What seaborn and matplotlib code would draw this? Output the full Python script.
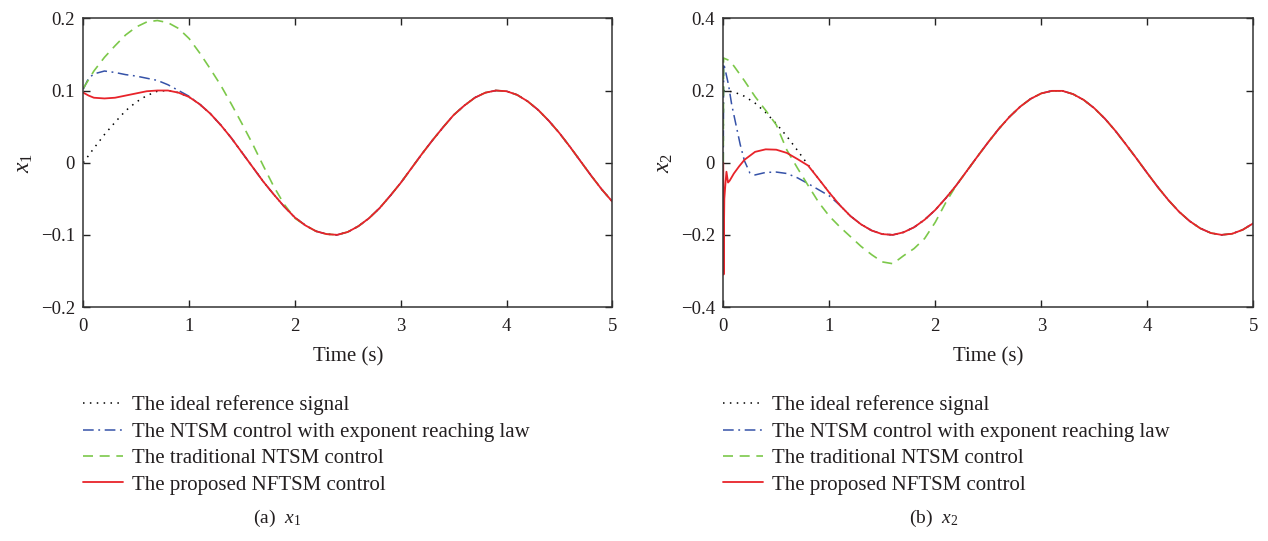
import numpy as np
import pandas as pd
import matplotlib
matplotlib.use("Agg")
import matplotlib.pyplot as plt
import seaborn as sns

# ---------------------------------------------------------------- data
# common time grid (s) for the reference trajectories
time_ref = np.linspace(0.0, 5.0, 51)

# reference trajectory for x1
x1_ref = [0.000, 0.020, 0.039, 0.056, 0.072, 0.084, 0.093, 0.099, 0.100, 0.097,
          0.091, 0.081, 0.068, 0.052, 0.034, 0.014, -0.006, -0.026, -0.044, -0.061,
          -0.076, -0.087, -0.095, -0.099, -0.100, -0.096, -0.088, -0.077, -0.063, -0.046,
          -0.028, -0.008, 0.012, 0.031, 0.049, 0.066, 0.079, 0.090, 0.097, 0.100,
          0.099, 0.094, 0.085, 0.073, 0.058, 0.041, 0.022, 0.002, -0.018, -0.037,
          -0.054]

# reference trajectory for x2
x2_ref = [0.200, 0.196, 0.184, 0.165, 0.139, 0.108, 0.073, 0.034, -0.006, -0.045,
          -0.083, -0.118, -0.148, -0.171, -0.188, -0.198, -0.200, -0.193, -0.179, -0.158,
          -0.131, -0.098, -0.062, -0.022, 0.018, 0.057, 0.094, 0.127, 0.155, 0.177,
          0.192, 0.199, 0.199, 0.190, 0.174, 0.151, 0.122, 0.088, 0.050, 0.011,
          -0.029, -0.068, -0.104, -0.136, -0.162, -0.182, -0.195, -0.200, -0.197, -0.186,
          -0.168]

# transient parts of the controlled responses (after these they track the reference)
x1_exp_t = [0.0, 0.05, 0.1, 0.2, 0.3, 0.4, 0.5, 0.6, 0.7, 0.8, 0.9, 1.0]
x1_exp_v = [0.102, 0.117, 0.123, 0.127, 0.125, 0.122, 0.120, 0.117, 0.114, 0.108, 0.100, 0.092]

x1_trad_t = [0.0, 0.1, 0.2, 0.3, 0.4, 0.5, 0.6, 0.7, 0.8, 0.9, 1.0,
             1.1, 1.2, 1.3, 1.4, 1.5, 1.6, 1.7, 1.8, 1.9, 2.0, 2.1]
x1_trad_v = [0.103, 0.127, 0.146, 0.162, 0.177, 0.188, 0.195, 0.197, 0.194, 0.186, 0.172,
             0.152, 0.130, 0.107, 0.081, 0.054, 0.026, -0.004, -0.033, -0.058, -0.077, -0.087]

x1_prop_t = [0.0, 0.05, 0.1, 0.2, 0.3, 0.4, 0.5, 0.6, 0.7, 0.8]
x1_prop_v = [0.097, 0.093, 0.090, 0.089, 0.090, 0.093, 0.096, 0.099, 0.100, 0.100]

x2_exp_t = [0.0, 0.004, 0.02, 0.05, 0.08, 0.12, 0.16, 0.2, 0.25, 0.3,
            0.4, 0.5, 0.6, 0.7, 0.8, 0.9, 1.0, 1.1]
x2_exp_v = [0.000, 0.275, 0.255, 0.215, 0.160, 0.105, 0.050, 0.005, -0.028, -0.034,
            -0.027, -0.026, -0.030, -0.042, -0.058, -0.075, -0.092, -0.118]

x2_trad_t = [0.0, 0.003, 0.05, 0.1, 0.2, 0.3, 0.4, 0.5, 0.6, 0.7, 0.8, 0.9, 1.0,
             1.1, 1.2, 1.3, 1.4, 1.5, 1.6, 1.7, 1.8, 1.9, 2.0, 2.1, 2.2]
x2_trad_v = [0.000, 0.290, 0.284, 0.268, 0.227, 0.183, 0.145, 0.105, 0.035, -0.015, -0.063, -0.110, -0.148,
             -0.178, -0.205, -0.232, -0.255, -0.275, -0.280, -0.258, -0.238, -0.210, -0.165, -0.110, -0.062]

x2_prop_t = [0.0, 0.003, 0.006, 0.01, 0.02, 0.03, 0.045, 0.06, 0.08, 0.1,
             0.15, 0.2, 0.3, 0.4, 0.5, 0.6, 0.7, 0.8]
x2_prop_v = [0.000, -0.310, -0.200, -0.100, -0.060, -0.025, -0.055, -0.050, -0.040, -0.030,
             -0.010, 0.008, 0.030, 0.037, 0.036, 0.027, 0.010, -0.008]

legend_labels = ["The ideal reference signal",
                 "The NTSM control with exponent reaching law",
                 "The traditional NTSM control",
                 "The proposed NFTSM control"]

x_ticks = [0, 1, 2, 3, 4, 5]
x1_ticks = [-0.2, -0.1, 0.0, 0.1, 0.2]
x2_ticks = [-0.4, -0.2, 0.0, 0.2, 0.4]
captions = ["(a)  $x_1$", "(b)  $x_2$"]
ylabels = ["$x_1$", "$x_2$"]


def with_tail(t_head, v_head, t_ref, v_ref):
    """Transient samples followed by the reference samples once tracking is reached."""
    t_ref = np.asarray(t_ref)
    v_ref = np.asarray(v_ref)
    mask = t_ref > t_head[-1] + 1e-9
    return pd.DataFrame({"t": np.concatenate([t_head, t_ref[mask]]),
                         "v": np.concatenate([v_head, v_ref[mask]])})


def tick_text(v):
    if abs(v) < 1e-12:
        return "0"
    s = f"{v:g}"
    return s.replace("-", "\u2212")


# ---------------------------------------------------------------- style
sns.set_theme(style="ticks")
plt.rcParams["font.family"] = ["Liberation Serif", "DejaVu Serif"]
plt.rcParams["mathtext.fontset"] = "custom"
plt.rcParams["mathtext.it"] = "Liberation Serif:italic"
plt.rcParams["mathtext.rm"] = "Liberation Serif"
plt.rcParams["axes.unicode_minus"] = True

FS = 13.5
FS_LEG = 15
TXT = "#231f20"
colors = ["#000000", "#3552a8", "#7cc84a", "#e8232a"]
styles = [dict(linestyle=(0, (1, 3.5))),
          dict(linestyle=(0, (7, 3, 1.2, 3))),
          dict(linestyle=(0, (6, 4))),
          dict(linestyle="-")]

fig = plt.figure(figsize=(12.68, 5.41), dpi=100)
axes = [fig.add_axes([0.0657, 0.4325, 0.4172, 0.5336]),
        fig.add_axes([0.5704, 0.4325, 0.4180, 0.5336])]

panels = [
    (x1_ref, (x1_exp_t, x1_exp_v), (x1_trad_t, x1_trad_v), (x1_prop_t, x1_prop_v), x1_ticks),
    (x2_ref, (x2_exp_t, x2_exp_v), (x2_trad_t, x2_trad_v), (x2_prop_t, x2_prop_v), x2_ticks),
]

for i, (ax, (ref, exp_, trad, prop, yt)) in enumerate(zip(axes, panels)):
    frames = [pd.DataFrame({"t": time_ref, "v": ref}),
              with_tail(exp_[0], exp_[1], time_ref, ref),
              with_tail(trad[0], trad[1], time_ref, ref),
              with_tail(prop[0], prop[1], time_ref, ref)]
    lws = [1.1, 1.1, 1.2, 1.3]
    for k, df in enumerate(frames):
        sns.lineplot(data=df, x="t", y="v", ax=ax, color=colors[k], lw=lws[k],
                     sort=False, estimator=None, label=legend_labels[k], **styles[k])

    ax.set_xlim(0, 5)
    ax.set_ylim(yt[0], yt[-1])
    ax.set_xticks(x_ticks)
    ax.set_xticklabels([str(v) for v in x_ticks])
    ax.set_yticks(yt)
    ax.set_yticklabels([tick_text(v) for v in yt])
    ax.tick_params(direction="in", length=5, width=1.0, top=True, right=True,
                   labelsize=FS, colors="#222222", labelcolor=TXT)
    ax.tick_params(axis="x", pad=8)
    ax.tick_params(axis="y", pad=6)
    for sp in ax.spines.values():
        sp.set_color("#333333")
        sp.set_linewidth(1.1)
        sp.set_visible(True)
    ax.set_xlabel("Time (s)", fontsize=15, color=TXT, labelpad=9)
    ax.set_ylabel(ylabels[i], fontsize=17, color=TXT, labelpad=4)

    x0 = 0.0657 if i == 0 else 0.5704
    ax.legend(loc="upper left", bbox_to_anchor=(x0, 0.269), bbox_transform=fig.transFigure,
              frameon=False, fontsize=FS_LEG, borderaxespad=0, borderpad=0,
              handlelength=1.9, handletextpad=0.45, labelspacing=0.33,
              labelcolor=TXT)

fig.text(0.2185, 0.041, captions[0], ha="center", va="center", fontsize=14, color=TXT)
fig.text(0.736, 0.041, captions[1], ha="center", va="center", fontsize=14, color=TXT)

fig.savefig("out.png", dpi=100, facecolor="white")
